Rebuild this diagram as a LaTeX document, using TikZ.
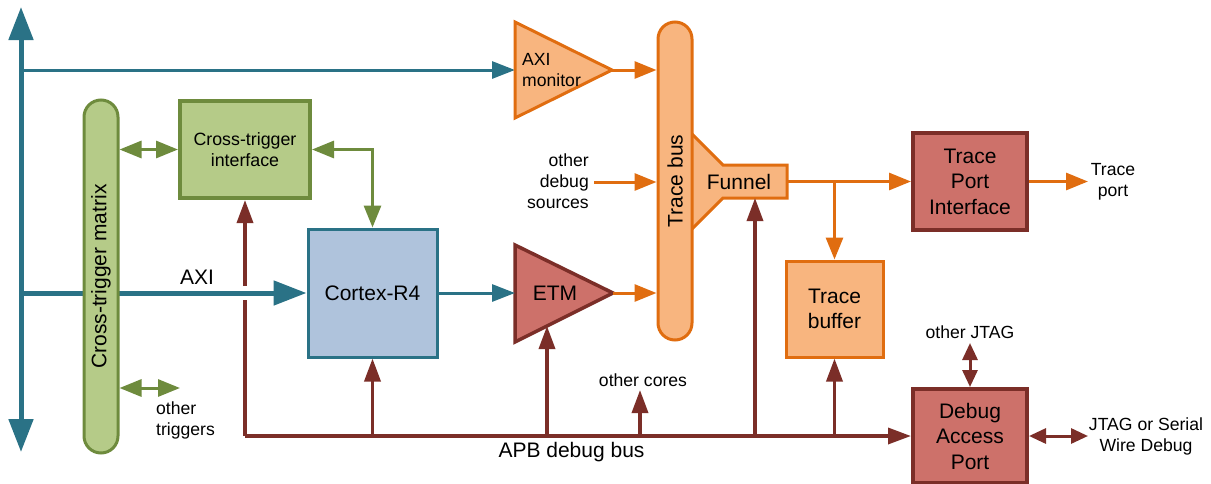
\documentclass[tikz,border=0pt]{standalone}
\usepackage{fontspec}
\setmainfont{Liberation Sans}
\usetikzlibrary{arrows.meta}
\definecolor{cteal}{HTML}{2A7286}
\definecolor{cgreenf}{HTML}{B5CB88}
\definecolor{cgreenb}{HTML}{6E8B3D}
\definecolor{credf}{HTML}{CD716A}
\definecolor{credb}{HTML}{7B2E28}
\definecolor{corgf}{HTML}{F8B57F}
\definecolor{corgb}{HTML}{E06D10}
\definecolor{cbluef}{HTML}{AFC3DC}
\begin{document}
\begin{tikzpicture}[x=1pt,y=-1pt,
  big/.style={font=\fontsize{21}{25.5}\selectfont},
  small/.style={font=\fontsize{17.6}{21}\selectfont},
  box/.style={rectangle, inner sep=0pt, line width=3pt, big, align=center},
  greenbox/.style={box, draw=cgreenb, fill=cgreenf, line width=4pt, font=\fontsize{17.8}{21}\selectfont},
  bluebox/.style={box, draw=cteal, fill=cbluef},
  redbox/.style={box, draw=credb, fill=credf, line width=4pt},
  orgbox/.style={box, draw=corgb, fill=corgf},
  pill/.style={rectangle, rounded corners=17pt, minimum width=34pt, inner sep=0pt, line width=3pt},
  tline/.style={draw=cteal, line width=3pt, >={Triangle[length=23pt,width=17pt]}},
  tthick/.style={draw=cteal, line width=5pt, >={Triangle[length=33pt,width=24pt]}},
  oline/.style={draw=corgb, line width=3pt, >={Triangle[length=22pt,width=17pt]}},
  rline/.style={draw=credb, line width=3.5pt, >={Triangle[length=23pt,width=16pt]}},
  rshort/.style={draw=credb, line width=3pt, >={Triangle[length=17pt,width=15pt]}},
  gline/.style={draw=cgreenb, line width=3pt, >={Triangle[length=22pt,width=17pt]}},
  lbl/.style={small, align=center, inner sep=0pt},
]
\useasboundingbox (0,0) rectangle (1211,483);

% coordinates
\coordinate (busT) at (21,7);
\coordinate (busB) at (21,452);
\coordinate (apbL) at (245,436);
\coordinate (axiL) at (515,70);
\coordinate (axiR) at (612,70);
\coordinate (etmL) at (515,293);
\coordinate (etmR) at (613,293);
\coordinate (etmB) at (547,326);
\coordinate (ods) at (594,182);
\coordinate (funR) at (787,181.5);
\coordinate (funB) at (755,198);
\coordinate (cores) at (640,390);
\coordinate (trp) at (1088,181.5);
\coordinate (jtag) at (1088,436);
\coordinate (ojtag) at (970,343);
\coordinate (otrig) at (180,388);
\coordinate (gap1) at (245,300);
\coordinate (gap2) at (245,286);

% boxes
\node[greenbox, minimum width=130pt, minimum height=97pt] (cti) at (245,149.5) {Cross-trigger\\interface};
\node[bluebox, minimum width=129pt, minimum height=128pt] (cortex) at (372.5,293) {Cortex-R4};
\node[redbox, minimum width=114pt, minimum height=97pt] (tpi) at (970,181.5) {Trace\\Port\\Interface};
\node[orgbox, minimum width=97pt, minimum height=96pt] (tbuf) at (834.5,309) {Trace\\buffer};
\node[redbox, minimum width=114pt, minimum height=94pt] (dap) at (970,436) {Debug\\Access\\Port};

% AXI thick arrow (behind matrix)
\draw[tthick,->] (busT |- cortex.west) -- (cortex.west);
\node[big, inner sep=0pt] (axilbl) at (197,277) {AXI};

% cross-trigger matrix
\node[pill, draw=cgreenb, fill=cgreenf, minimum height=353pt] (ctm) at (101,276.5) {};
\node[big, rotate=90, inner sep=0pt] (ctmt) at (ctm.center) {Cross-trigger matrix};

% left bus
\draw[tthick,<->] (busT) -- (busB);
\draw[tline,->] (busT |- axiL) -- (axiL);

% triangles
\draw[draw=corgb, fill=corgf, line width=3pt, line join=miter] (515,22) -- (axiR) -- (515,118) -- cycle;
\node[small, align=left, anchor=west, inner sep=0pt] (axim) at (522,70) {AXI\\monitor};
\draw[draw=credb, fill=credf, line width=3.5pt, line join=miter] (515,245) -- (etmR) -- (515,342) -- cycle;
\node[big, inner sep=0pt] (etm) at (555,293) {ETM};

% funnel and trace bus
\draw[draw=corgb, fill=corgf, line width=3pt, line join=miter] (692,134) -- (723,165) -- (787,165) -- (787,198) -- (723,198) -- (692,229);
\node[pill, draw=corgb, fill=corgf, minimum height=318pt] (tbus) at (675,181) {};
\node[big, rotate=90, inner sep=0pt] (tbust) at (tbus.center) {Trace bus};
\node[big, inner sep=0pt] (funnel) at (739,181.5) {Funnel};

% green connectors
\draw[gline,<->] (ctm.east |- cti.west) -- (cti.west);
\draw[gline,<->] (ctm.east |- otrig) -- (otrig);
\node[lbl, align=left, anchor=west] (otrigt) at (156,420) {other\\triggers};
\draw[gline,<->] (cti.east) -| (cortex.north);

% teal cortex -> ETM
\draw[tline,->] (cortex.east) -- (etmL);

% orange connectors
\draw[oline,->] (axiR) -- (tbus.west |- axiR);
\draw[oline,->] (etmR) -- (tbus.west |- etmR);
\draw[oline,->] (ods) -- (tbus.west |- ods);
\node[lbl, align=right, anchor=east] (odst) at (589,181) {other\\debug\\sources};
\draw[oline,->] (funR) -- (tpi.west);
\draw[oline,->] (tbuf.north |- funR) -- (tbuf.north);
\draw[oline,->] (tpi.east) -- (trp);
\node[lbl] (trpt) at (1113,181.5) {Trace\\port};

% red connectors
\draw[rline] (apbL) -- (gap1);
\draw[rline,->] (gap2) -- (cti.south);
\draw[rline,->] (apbL) -- (dap.west |- apbL);
\draw[rline,->] (cortex.south |- apbL) -- (cortex.south);
\draw[rline,->] (etmB |- apbL) -- (etmB);
\draw[rline,->] (cores |- apbL) -- (cores);
\draw[rline,->] (funB |- apbL) -- (funB);
\draw[rline,->] (tbuf.south |- apbL) -- (tbuf.south);
\draw[rshort,<->] (dap.north) -- (ojtag);
\draw[rshort,<->] (dap.east) -- (jtag);
\node[lbl] (corest) at (643,380) {other cores};
\node[lbl] (ojtagt) at (970,332) {other JTAG};
\node[lbl] (jtagt) at (1146,436) {JTAG or Serial\\Wire Debug};
\node[big, inner sep=0pt] (apbt) at (571.5,452) {APB debug bus};
\end{tikzpicture}
\end{document}
